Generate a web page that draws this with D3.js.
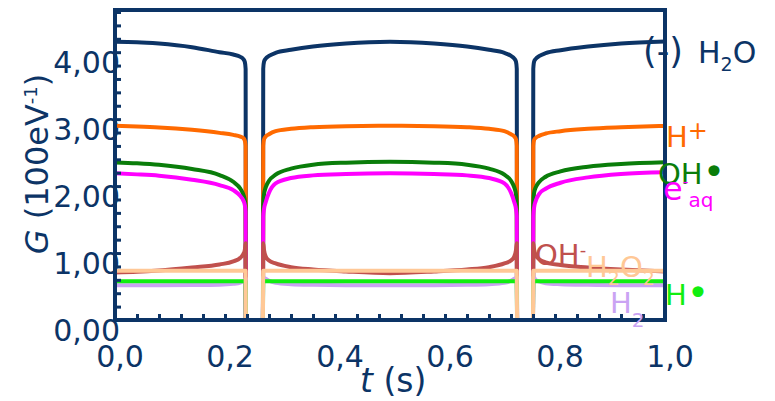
<!DOCTYPE html>
<html>
<head>
<meta charset="utf-8">
<script src="https://cdn.jsdelivr.net/npm/d3@7"></script>
<style>
  body { margin: 0; background: #fff; }
  svg { display: block; }
  text { font-family: "DejaVu Sans", Verdana, sans-serif; }
</style>
</head>
<body>
<svg id="chart" width="775" height="401"></svg>
<script>
// Sampling times (s); null marks the breaks between the three pulse windows
const times = [
  0, 0.04, 0.08, 0.14, 0.19, 0.215, 0.228, 0.233, 0.236, 0.2375, 0.238, null,
  0.269, 0.2695, 0.271, 0.274, 0.28, 0.292, 0.32, 0.36, 0.42, 0.5,
  0.58, 0.64, 0.68, 0.708, 0.72, 0.726, 0.729, 0.7305, 0.731, null,
  0.760, 0.7605, 0.762, 0.765, 0.771, 0.783, 0.81, 0.86, 0.92, 1.0
];

// G values (molecules / 100 eV) for each species, aligned with `times`
const gH2O = [
  4.155, 4.15, 4.13, 4.075, 4.0, 3.965, 3.93, 3.90, 3.855, 3.75, 0, null,
  0, 3.75, 3.86, 3.905, 3.945, 3.99, 4.035, 4.085, 4.13, 4.155,
  4.13, 4.085, 4.035, 3.99, 3.945, 3.905, 3.86, 3.75, 0, null,
  0, 3.75, 3.86, 3.90, 3.94, 3.985, 4.03, 4.085, 4.13, 4.16
];
const gHplus = [
  2.90, 2.89, 2.876, 2.84, 2.795, 2.765, 2.74, 2.72, 2.68, 2.6, 0, null,
  0, 2.6, 2.70, 2.74, 2.775, 2.82, 2.855, 2.88, 2.895, 2.90,
  2.895, 2.88, 2.855, 2.82, 2.775, 2.74, 2.70, 2.6, 0, null,
  0, 2.6, 2.69, 2.72, 2.75, 2.785, 2.82, 2.855, 2.878, 2.898
];
const gOH = [
  2.354, 2.34, 2.318, 2.255, 2.165, 2.064, 1.96, 1.88, 1.79, 1.68, 0, null,
  0, 1.72, 1.88, 1.98, 2.08, 2.17, 2.26, 2.32, 2.35, 2.363,
  2.35, 2.32, 2.26, 2.17, 2.08, 1.98, 1.88, 1.72, 0, null,
  0, 1.72, 1.90, 1.98, 2.06, 2.14, 2.22, 2.29, 2.33, 2.355
];
const gEaq = [
  2.19, 2.175, 2.155, 2.095, 2.015, 1.94, 1.85, 1.79, 1.72, 1.62, 0, null,
  0, 1.55, 1.66, 1.76, 1.90, 2.04, 2.12, 2.16, 2.18, 2.19,
  2.18, 2.16, 2.12, 2.04, 1.90, 1.76, 1.66, 1.55, 0, null,
  0, 1.55, 1.68, 1.78, 1.88, 1.96, 2.05, 2.13, 2.18, 2.205
];
const gOHminus = [
  0.71, 0.72, 0.74, 0.785, 0.83, 0.875, 0.93, 0.98, 1.045, 1.145, 0, null,
  0, 1.145, 1.04, 0.95, 0.89, 0.845, 0.79, 0.755, 0.725, 0.70,
  0.725, 0.755, 0.79, 0.845, 0.89, 0.95, 1.04, 1.145, 0, null,
  0, 1.145, 1.05, 0.97, 0.91, 0.86, 0.82, 0.785, 0.755, 0.725
];
const gH2 = [
  0.52, 0.52, 0.52, 0.522, 0.527, 0.54, 0.56, 0.58, 0.60, 0.625, 0, null,
  0, 0.64, 0.63, 0.615, 0.585, 0.555, 0.535, 0.525, 0.52, 0.52,
  0.52, 0.525, 0.535, 0.555, 0.585, 0.615, 0.63, 0.64, 0, null,
  0, 0.64, 0.63, 0.60, 0.575, 0.55, 0.535, 0.525, 0.52, 0.52
];
const gH = [
  0.58, 0.58, 0.58, 0.58, 0.58, 0.58, 0.58, 0.58, 0.58, 0.58, 0, null,
  0, 0.58, 0.58, 0.58, 0.58, 0.58, 0.58, 0.58, 0.58, 0.58,
  0.58, 0.58, 0.58, 0.58, 0.58, 0.58, 0.58, 0.58, 0, null,
  0, 0.58, 0.58, 0.58, 0.58, 0.58, 0.58, 0.58, 0.58, 0.58
];
const gH2O2 = [
  0.736, 0.736, 0.736, 0.736, 0.736, 0.736, 0.736, 0.736, 0.736, 0.736, 0, null,
  0, 0.736, 0.736, 0.736, 0.736, 0.736, 0.736, 0.736, 0.736, 0.736,
  0.736, 0.736, 0.736, 0.736, 0.736, 0.736, 0.736, 0.736, 0, null,
  0, 0.736, 0.736, 0.736, 0.736, 0.736, 0.736, 0.736, 0.736, 0.736
];

// Axis ticks and their labels
const xTickValues = [0, 0.2, 0.4, 0.6, 0.8, 1.0];
const xTickLabels = ["0,0", "0,2", "0,4", "0,6", "0,8", "1,0"];
const yTickValues = [0, 1, 2, 3, 4];
const yTickLabels = ["0,00", "1,00", "2,00", "3,00", "4,00"];

const navy = "#0c3466";

// Species in drawing order
const series = [
  { key: "H2O",  values: gH2O,     color: navy },
  { key: "H+",   values: gHplus,   color: "#ff6a00" },
  { key: "OH",   values: gOH,      color: "#0a7d0a" },
  { key: "eaq",  values: gEaq,     color: "#ff00ff" },
  { key: "OH-",  values: gOHminus, color: "#c0504d" },
  { key: "H2",   values: gH2,      color: "#caa3f3" },
  { key: "H",    values: gH,       color: "#11ee11" },
  { key: "H2O2", values: gH2O2,    color: "#ffc896" }
];

const svg = d3.select("#chart");
const plot = { left: 115, right: 665, top: 10, bottom: 320 };

const x = d3.scaleLinear().domain([0, 1]).range([plot.left, plot.right]);
const y = d3.scaleLinear().domain([0, 4.63]).range([plot.bottom, plot.top]);

svg.append("defs").append("clipPath").attr("id", "plot-clip")
  .append("rect")
  .attr("x", plot.left).attr("y", plot.top)
  .attr("width", plot.right - plot.left).attr("height", plot.bottom - plot.top);

// Tick labels (drawn first so the frame sits on top)
svg.append("g").selectAll("text").data(yTickValues).join("text")
  .attr("x", plot.left + 5)
  .attr("y", d => y(d) + 21)
  .attr("text-anchor", "end")
  .attr("font-size", 30)
  .attr("fill", navy)
  .text((d, i) => yTickLabels[i]);

svg.append("g").selectAll("text").data(xTickValues).join("text")
  .attr("x", d => x(d) + 5)
  .attr("y", 367)
  .attr("text-anchor", "middle")
  .attr("font-size", 30)
  .attr("fill", navy)
  .text((d, i) => xTickLabels[i]);

// Curves
const line = d3.line()
  .defined((d, i) => times[i] !== null && d !== null)
  .x((d, i) => x(times[i]))
  .y(d => y(d))
  .curve(d3.curveMonotoneX);

const curves = svg.append("g").attr("clip-path", "url(#plot-clip)");
series.forEach(s => {
  curves.append("path")
    .attr("d", line(s.values))
    .attr("fill", "none")
    .attr("stroke", s.color)
    .attr("stroke-width", 4)
    .attr("stroke-linejoin", "round");
});

// Inward ticks
const xMinor = d3.range(0, 1.0001, 0.04);
const yMinor = d3.range(0, 4.61, 0.2);
svg.append("g")
  .attr("transform", `translate(0,${plot.bottom})`)
  .call(d3.axisBottom(x).tickValues(xMinor).tickSize(-6).tickFormat(""))
  .call(g => g.select(".domain").remove())
  .call(g => g.selectAll("line").attr("stroke", navy).attr("stroke-width", 3));
svg.append("g")
  .attr("transform", `translate(${plot.left},0)`)
  .call(d3.axisLeft(y).tickValues(yMinor).tickSize(-6).tickFormat(""))
  .call(g => g.select(".domain").remove())
  .call(g => g.selectAll("line").attr("stroke", navy).attr("stroke-width", 3));

// Frame
svg.append("rect")
  .attr("x", plot.left).attr("y", plot.top)
  .attr("width", plot.right - plot.left).attr("height", plot.bottom - plot.top)
  .attr("fill", "none").attr("stroke", navy).attr("stroke-width", 4);

// Axis titles
const yTitle = svg.append("text")
  .attr("transform", `translate(48,164) rotate(-90)`)
  .attr("text-anchor", "middle")
  .attr("font-size", 32)
  .attr("fill", navy);
yTitle.append("tspan").attr("font-style", "italic").text("G");
yTitle.append("tspan").text(" (100eV");
yTitle.append("tspan").attr("font-size", 18).attr("dy", -11).text("-1");
yTitle.append("tspan").attr("dy", 11).text(")");

const xTitle = svg.append("text")
  .attr("x", 360).attr("y", 392)
  .attr("font-size", 33)
  .attr("fill", navy);
xTitle.append("tspan").attr("font-style", "italic").text("t");
xTitle.append("tspan").text(" (s)");

// Species labels
function label(xp, yp, color, parts) {
  const t = svg.append("text").attr("x", xp).attr("y", yp)
    .attr("font-size", 29).attr("fill", color);
  parts.forEach(p => {
    const ts = t.append("tspan").text(p.text);
    if (p.size) ts.attr("font-size", p.size);
    if (p.dy) ts.attr("dy", p.dy);
    if (p.x) ts.attr("x", p.x);
  });
}

label(643, 63, navy, [
  { text: "(-)", size: 35 }, { text: "H", x: 698, size: 30 },
  { text: "2", size: 19, dy: 8 }, { text: "O", size: 30, dy: -8 }
]);
label(666, 147, "#ff6a00", [
  { text: "H" }, { text: "+", size: 24, dy: -8 }
]);
label(658, 184, "#0a7d0a", [
  { text: "OH" }, { text: "•", size: 38, dy: 1 }
]);
label(663, 200, "#ff00ff", [
  { text: "e", size: 32 }, { text: "-", size: 16, dy: -13 },
  { text: "aq", size: 20, dy: 20 }
]);
label(535, 265, "#c0504d", [
  { text: "OH" }, { text: "-", size: 18, dy: -9 }
]);
label(586, 277, "#ffc896", [
  { text: "H" }, { text: "2", size: 19, dy: 8 },
  { text: "O", dy: -8 }, { text: "2", size: 19, dy: 8 }
]);
label(665, 305, "#11ee11", [
  { text: "H" }, { text: "•", size: 38, dy: 1 }
]);
label(610, 313, "#caa3f3", [
  { text: "H" }, { text: "2", size: 20, dy: 14 }
]);
</script>
</body>
</html>
